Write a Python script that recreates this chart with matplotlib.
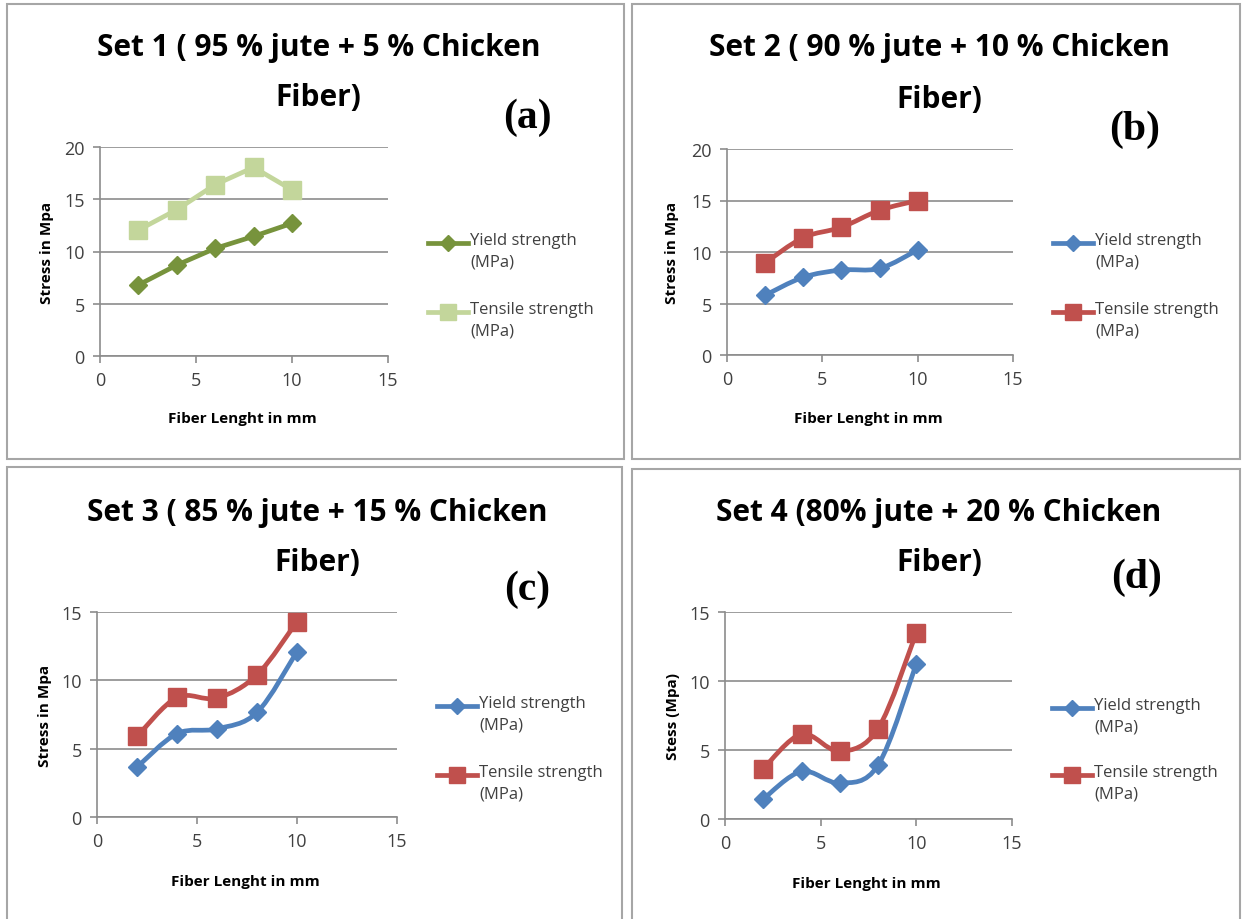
import matplotlib
matplotlib.use("Agg")
import matplotlib.pyplot as plt
from matplotlib import font_manager
from matplotlib.patches import Rectangle, PathPatch
from matplotlib.path import Path
from matplotlib.lines import Line2D

# data
fiber_length = [2, 4, 6, 8, 10]

set1_yield = [6.8, 8.7, 10.3, 11.45, 12.7]
set1_tensile = [12.05, 14.0, 16.4, 18.05, 15.9]

set2_yield = [5.8, 7.55, 8.25, 8.4, 10.2]
set2_tensile = [8.95, 11.4, 12.4, 14.05, 15.0]

set3_yield = [3.65, 6.1, 6.45, 7.65, 12.1]
set3_tensile = [5.9, 8.75, 8.7, 10.4, 14.3]

set4_yield = [1.45, 3.45, 2.6, 3.9, 11.25]
set4_tensile = [3.65, 6.15, 4.9, 6.55, 13.5]

titles = ["Set 1 ( 95 % jute + 5 % Chicken\nFiber)",
          "Set 2 ( 90 % jute + 10 % Chicken\nFiber)",
          "Set 3 ( 85 % jute + 15 % Chicken\nFiber)",
          "Set 4 (80% jute + 20 % Chicken\nFiber)"]
tags = ["(a)", "(b)", "(c)", "(d)"]
ylabels = ["Stress in Mpa", "Stress in Mpa", "Stress in Mpa", "Stess (Mpa)"]
xlabel = "Fiber Lenght in mm"
legend_labels = ["Yield strength\n(MPa)", "Tensile strength\n(MPa)"]

installed = {f.name for f in font_manager.fontManager.ttflist}
FONT = "Liberation Sans Narrow" if "Liberation Sans Narrow" in installed else "Open Sans"

W, H = 1246, 920
fig = plt.figure(figsize=(W / 100, H / 100), dpi=100)


def fx(px):
    return px / W


def fy(py):
    return 1 - py / H


def smooth_path(xs, ys):
    # bezier curve through the points, like Excel's smoothed line
    pts = list(zip(xs, ys))
    verts = [pts[0]]
    codes = [Path.MOVETO]
    n = len(pts)
    for i in range(n - 1):
        p0 = pts[i - 1] if i > 0 else pts[i]
        p1 = pts[i]
        p2 = pts[i + 1]
        p3 = pts[i + 2] if i + 2 < n else pts[i + 1]
        c1 = (p1[0] + (p2[0] - p0[0]) / 6, p1[1] + (p2[1] - p0[1]) / 6)
        c2 = (p2[0] - (p3[0] - p1[0]) / 6, p2[1] - (p3[1] - p1[1]) / 6)
        verts += [c1, c2, p2]
        codes += [Path.CURVE4] * 3
    return Path(verts, codes)


panels = [
    # border box, axes box (px), ymax, colors, smooth, legend (x, y1, y2), ylabel x, xlabel y, tag pos, title y
    dict(box=(7, 5, 624, 460), ax=(100, 148, 388, 357), ymax=20,
         data=(set1_yield, set1_tensile), colors=("#77933C", "#C3D69B"), smooth=False,
         leg=(428, 244, 313), ylx=47, xly=419, tag=(527, 118), ty=(48, 98)),
    dict(box=(632, 5, 1240, 460), ax=(727, 150, 1013, 356), ymax=20,
         data=(set2_yield, set2_tensile), colors=("#4F81BD", "#C0504D"), smooth=True,
         leg=(1053, 244, 313), ylx=672, xly=419, tag=(1135, 130), ty=(48, 100)),
    dict(box=(7, 468, 622, 925), ax=(97, 613, 397, 818), ymax=15,
         data=(set3_yield, set3_tensile), colors=("#4F81BD", "#C0504D"), smooth=True,
         leg=(437, 707, 776), ylx=45, xly=882, tag=(527, 590), ty=(513, 563)),
    dict(box=(632, 470, 1240, 925), ax=(725, 613, 1012, 820), ymax=15,
         data=(set4_yield, set4_tensile), colors=("#4F81BD", "#C0504D"), smooth=True,
         leg=(1052, 709, 776), ylx=673, xly=884, tag=(1137, 578), ty=(513, 563)),
]

for k, p in enumerate(panels):
    x0, y0, x1, y1 = p["box"]
    fig.patches.append(Rectangle((fx(x0), fy(y1)), fx(x1 - x0), (y1 - y0) / H,
                                 transform=fig.transFigure, fill=False,
                                 edgecolor="#A6A6A6", lw=1.5))

    l, t, r, b = p["ax"]
    ax = fig.add_axes([fx(l), fy(b), fx(r - l), (b - t) / H])
    ax.set_xlim(0, 15)
    ax.set_ylim(0, p["ymax"])
    ax.set_xticks([0, 5, 10, 15])
    ax.set_yticks(range(0, p["ymax"] + 1, 5))
    for s in ["top", "right"]:
        ax.spines[s].set_visible(False)
    for s in ["left", "bottom"]:
        ax.spines[s].set_color("#8C8C8C")
        ax.spines[s].set_linewidth(1.2)
    ax.tick_params(direction="out", length=5, width=1.2, color="#8C8C8C",
                   labelsize=13, labelcolor="#404040", pad=6)
    for lab in ax.get_xticklabels() + ax.get_yticklabels():
        lab.set_family(FONT)
    ax.yaxis.grid(True, color="#8C8C8C", lw=1.2)
    ax.set_axisbelow(True)

    yld, ten = p["data"]
    c_y, c_t = p["colors"]
    for vals, col, mk, ms in [(yld, c_y, "D", 9.5), (ten, c_t, "s", 12.5)]:
        if p["smooth"]:
            ax.add_patch(PathPatch(smooth_path(fiber_length, vals), fill=False,
                                   edgecolor=col, lw=3.4, capstyle="round", zorder=3))
            ax.plot(fiber_length, vals, ls="none", marker=mk, ms=ms, color=col, zorder=4)
        else:
            ax.plot(fiber_length, vals, marker=mk, ms=ms, color=col, lw=3.4, zorder=3)

    # titles and labels
    tx = (x0 + x1) / 2 + 3
    line1, line2 = titles[k].split("\n")
    fig.text(fx(tx), fy(p["ty"][0]), line1, ha="center", va="center",
             fontsize=21.5, fontweight="bold", family=FONT)
    fig.text(fx(tx), fy(p["ty"][1]), line2, ha="center", va="center",
             fontsize=21.5, fontweight="bold", family=FONT)
    fig.text(fx(p["tag"][0]), fy(p["tag"][1]), tags[k], ha="center", va="center",
             fontsize=30, fontweight="bold", family="Liberation Serif")
    fig.text(fx(p["ylx"]), fy((t + b) / 2), ylabels[k], rotation=90, ha="center",
             va="center", fontsize=11, fontweight="bold", family=FONT)
    fig.text(fx((l + r) / 2 - 2), fy(p["xly"]), xlabel, ha="center", va="center",
             fontsize=11, fontweight="bold", family=FONT)

    # legend
    lx, ly1, ly2 = p["leg"]
    for ly, col, mk, ms, lab in [(ly1, c_y, "D", 8, legend_labels[0]),
                                 (ly2, c_t, "s", 11, legend_labels[1])]:
        fig.add_artist(Line2D([fx(lx), fx(lx + 40)], [fy(ly), fy(ly)],
                              transform=fig.transFigure, color=col, lw=3.4))
        fig.add_artist(Line2D([fx(lx + 20)], [fy(ly)], transform=fig.transFigure,
                              color=col, marker=mk, ms=ms))
        fig.text(fx(lx + 42), fy(ly - 11), lab, ha="left", va="top", fontsize=12,
                 color="#404040", family=FONT, linespacing=1.45)

fig.savefig("out.png", dpi=100)
